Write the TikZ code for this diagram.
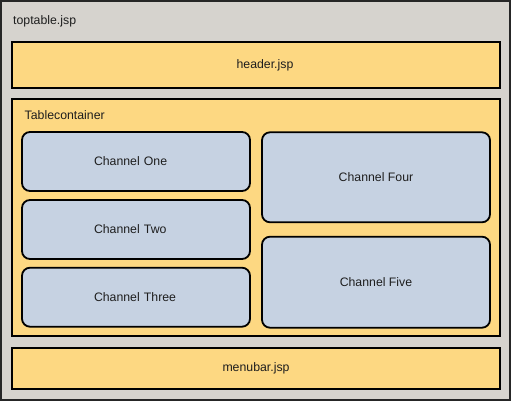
\documentclass[tikz,border=0pt]{standalone}
\usepackage{fontspec}
\setmainfont{Liberation Sans}
\definecolor{bggrey}{HTML}{D6D3CE}
\definecolor{jspyellow}{HTML}{FDD882}
\definecolor{chanblue}{HTML}{C6D2E2}
\definecolor{txt}{HTML}{1E1E1E}
\tikzset{
  box/.style={draw=black, line width=1.8pt, inner sep=0pt, outer sep=0pt, font=\fontsize{12.3}{14}\selectfont, text=txt},
  jspbox/.style={box, fill=jspyellow},
  chanbox/.style={box, fill=chanblue, rounded corners=8pt},
  leftchan/.style={chanbox, text width=84pt, align=left},
  lbl/.style={inner sep=0pt, anchor=west, font=\fontsize{12.3}{14}\selectfont, text=txt},
}
\begin{document}
\begin{tikzpicture}[x=1pt,y=-1pt]
\useasboundingbox (0,0) rectangle (513,403);
\fill[white] (0,0) rectangle (513,403);
\node[box, fill=bggrey, draw=black!85, minimum width=509pt, minimum height=399pt] (top) at (255.5,200.5) {};
\node[lbl] (toplbl) at (13,21.5) {toptable.jsp};
\node[jspbox, minimum width=488pt, minimum height=46pt] (header) at (256,65) {\hspace*{18pt}header.jsp};
\node[jspbox, minimum width=488pt, minimum height=237pt] (table) at (256,217.5) {};
\node[lbl] (tablelbl) at (24.5,115) {Tablecontainer};
\node[jspbox, minimum width=488pt, minimum height=41pt] (menubar) at (256,368.5) {menubar.jsp};
\node[leftchan, minimum width=228pt, minimum height=59pt] (c1) at (136,161.5) {Channel One};
\node[leftchan, minimum width=228pt, minimum height=59pt] (c2) at (136,229.5) {Channel Two};
\node[leftchan, minimum width=228pt, minimum height=59pt] (c3) at (136,297.2) {Channel Three};
\node[chanbox, minimum width=228pt, minimum height=90pt] (c4) at (376,177.3) {Channel Four};
\node[chanbox, minimum width=228pt, minimum height=91pt] (c5) at (376,282.2) {Channel Five};
\end{tikzpicture}
\end{document}
